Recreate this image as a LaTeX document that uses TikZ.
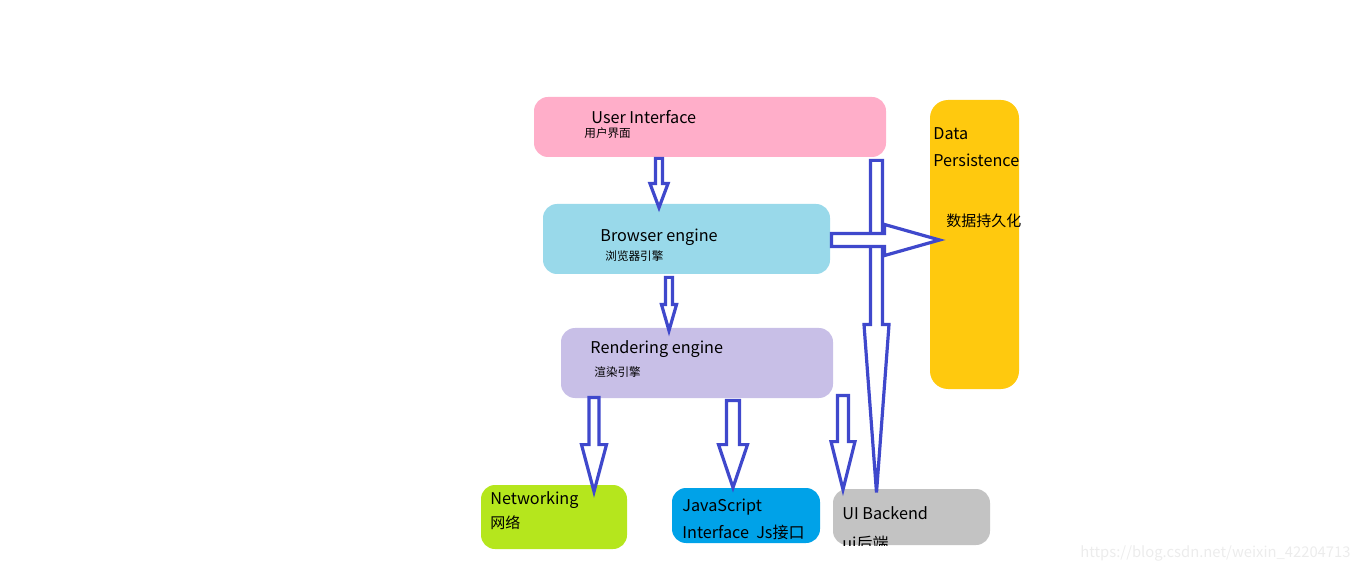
\documentclass[tikz,border=0pt]{standalone}
\usepackage{fontspec}
\setmainfont{Noto Sans CJK SC}
\usetikzlibrary{calc}
\definecolor{uipink}{HTML}{FFAEC9}
\definecolor{bepblue}{HTML}{99D9EA}
\definecolor{renlav}{HTML}{C8BFE7}
\definecolor{dpyellow}{HTML}{FFC90E}
\definecolor{netgreen}{HTML}{B5E61D}
\definecolor{jsblue}{HTML}{00A2E8}
\definecolor{uibgray}{HTML}{C3C3C3}
\definecolor{arrowblue}{HTML}{3F48CC}
\def\fatarrow(#1)(#2)(#3:#4:#5){%
  \coordinate (fa-b) at ($(#2)!#5!(#1)$);
  \draw[arrowline] ($(#1)!#3!90:(#2)$) -- ($(fa-b)!#3!90:(#2)$) -- ($(fa-b)!#4!90:(#2)$) -- (#2)
    -- ($(fa-b)!#4!-90:(#2)$) -- ($(fa-b)!#3!-90:(#2)$) -- ($(#1)!#3!-90:(#2)$) -- cycle;}

\begin{document}
\begin{tikzpicture}[x=0.5pt,y=-0.5pt,
  box/.style={rectangle,rounded corners=7pt,inner sep=0pt},
  arrowline/.style={draw=arrowblue,fill=white,line width=1.6pt},
  entext/.style={anchor=west,inner sep=0pt,font=\fontsize{8.1}{10}\selectfont},
  zhsmall/.style={anchor=west,inner sep=0pt,font=\fontsize{5.8}{7}\selectfont},
  zhtext/.style={anchor=west,inner sep=0pt,font=\fontsize{7.5}{9}\selectfont}]
		%%%%% START %%%%%
		\useasboundingbox (0,0) rectangle (1360,572);
		
		\node[box,fill=uipink,minimum width=176pt,minimum height=30pt] (ui) at (710,127) {};
		\node[box,fill=bepblue,minimum width=143.5pt,minimum height=35pt] (browser) at (686.5,239) {};
		\node[box,fill=renlav,minimum width=136pt,minimum height=35pt] (render) at (697,363) {};
		\node[box,fill=dpyellow,minimum width=44.5pt,minimum height=144.5pt,rounded corners=9pt] (data) at (974.5,244.5) {};
		\node[box,fill=netgreen,minimum width=73pt,minimum height=32pt] (net) at (554,517) {};
		\node[box,fill=jsblue,minimum width=74pt,minimum height=27.5pt] (js) at (746,515.5) {};
		\node[box,fill=uibgray,minimum width=78.5pt,minimum height=28pt] (uib) at (911.5,517) {};
		
		\node[entext] (ui-en) at (591,117) {User Interface};
		\node[zhsmall] (ui-zh) at (584,133) {用户界面};
		\node[entext] (browser-en) at (600,237) {Browser engine};
		\node[zhsmall] (browser-zh) at (605,256) {浏览器引擎};
		\node[entext] (render-en) at (590,349) {Rendering engine};
		\node[zhsmall] (render-zh) at (594,372) {渲染引擎};
		\node[entext] (data-en1) at (933,134) {Data};
		\node[entext] (data-en2) at (933,160) {Persistence};
		\node[zhtext] (data-zh) at (946,221) {数据持久化};
		\node[entext] (net-en) at (490,500) {Networking};
		\node[zhtext] (net-zh) at (490,523) {网络};
		\node[entext] (js-en1) at (682,507) {JavaScript};
		\node[entext] (js-en2) at (682,532) {Interface\ \ Js\fontsize{8}{10}\selectfont 接口};
		\node[entext] (uib-en) at (842,513) {UI Backend};
		\begin{scope}
			\clip (uib.south west) rectangle (uib.north east);
			\node[entext] (uib-zh) at (842,543) {ui\fontsize{8}{10}\selectfont 后端};
		\end{scope}
		
		\node[anchor=west,inner sep=0pt,text=gray!15,font=\fontsize{7.4}{9}\selectfont] (mark) at (1080,553) {https://blog.csdn.net/weixin\_42204713};
		
		% block arrows: tail, tip, shaft half width, head half width, head length
		\coordinate (a1t) at ($(ui.south)+(-51,1)$);
		\coordinate (a1h) at ($(browser.north)+(-27.5,4)$);
		\coordinate (a2t) at ($(browser.south)+(-17.5,3)$);
		\coordinate (a2h) at ($(render.north)+(-28,3)$);
		\coordinate (a3t) at ($(render.south)+(-103,-1)$);
		\coordinate (a3h) at ($(net.north)+(40,7)$);
		\coordinate (a4t) at ($(render.south)+(36,2)$);
		\coordinate (a4h) at ($(js.north)+(-13,0)$);
		\coordinate (a5t) at ($(render.south)+(146,-3)$);
		\coordinate (a5h) at ($(uib.north)+(-68.5,1)$);
		\coordinate (a6t) at ($(ui.south)+(166.5,3)$);
		\coordinate (a6h) at ($(uib.north)+(-35,4)$);
		\coordinate (a7t) at ($(browser.east)+(1,1)$);
		\coordinate (a7h) at ($(data.west |- browser.east)+(10,1)$);
		
		\fatarrow(a1t)(a1h)(1.75pt:4.5pt:12pt);
		\fatarrow(a2t)(a2h)(1.75pt:3.75pt:13pt);
		\fatarrow(a3t)(a3h)(2.5pt:6.25pt:23.5pt);
		\fatarrow(a4t)(a4h)(3.25pt:7.25pt:21.5pt);
		\fatarrow(a5t)(a5h)(2.75pt:6pt:24pt);
		\fatarrow(a6t)(a6h)(3pt:6.25pt:84pt);
		\fatarrow(a7t)(a7h)(3.25pt:7.75pt:27.5pt);
		%%%%% END %%%%%
\end{tikzpicture}
\end{document}
